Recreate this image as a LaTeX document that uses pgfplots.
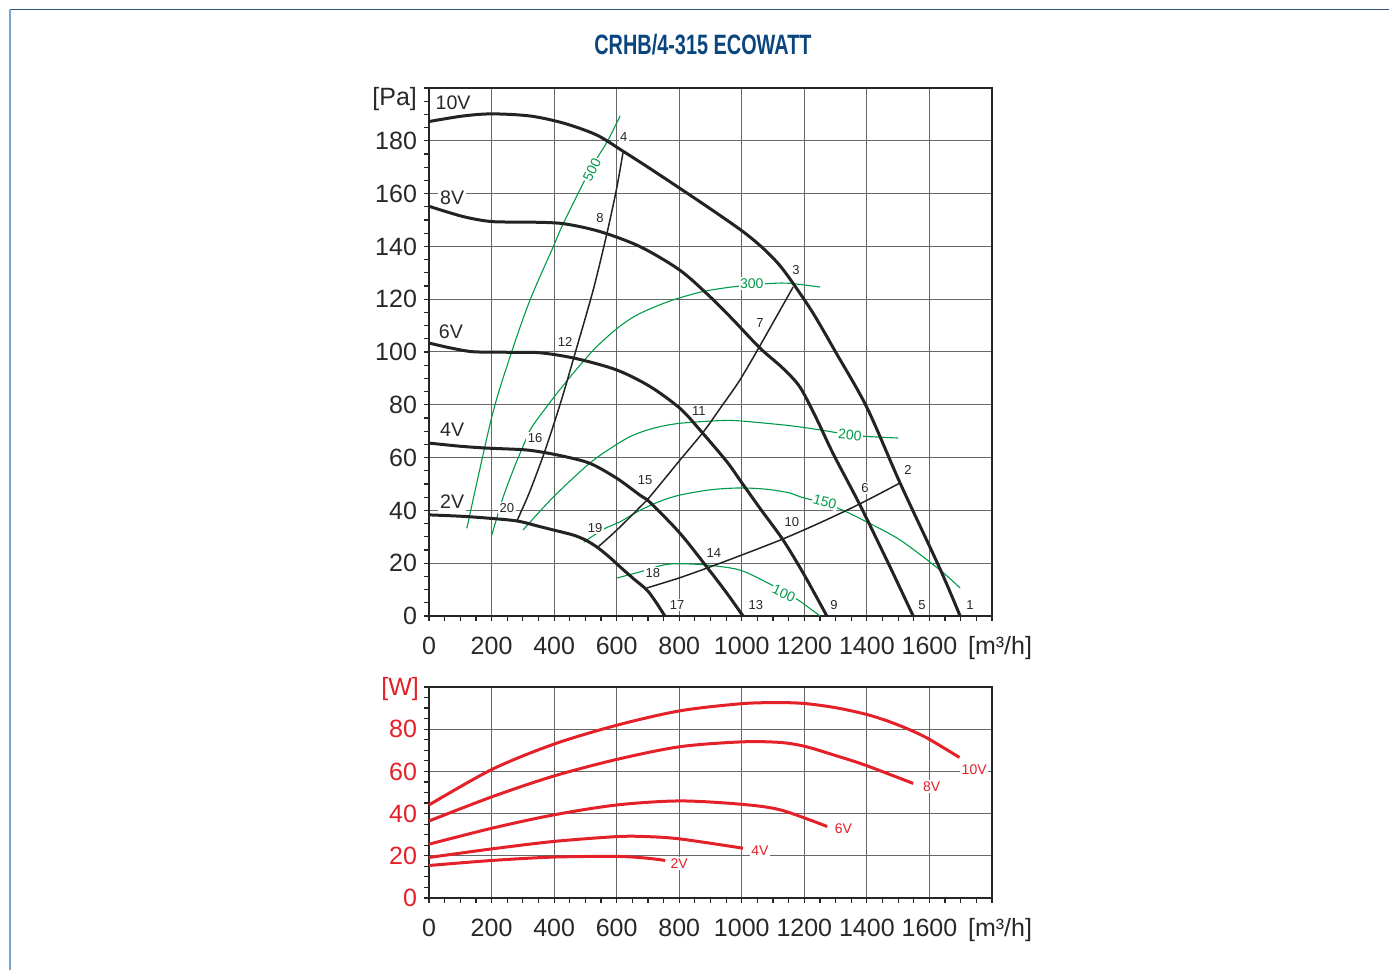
\documentclass[border=0pt]{standalone}
\usepackage{pgfplots}
\pgfplotsset{compat=1.18}
\usepackage{fontspec}
\setmainfont{Liberation Sans}
\usepackage{graphicx}
\definecolor{cgreen}{RGB}{0,155,72}
\definecolor{cred}{RGB}{228,32,40}
\definecolor{ctitle}{RGB}{10,70,125}
\definecolor{cframe}{RGB}{45,85,128}
\definecolor{cframel}{RGB}{125,165,200}
\definecolor{ctext}{RGB}{40,40,40}
\definecolor{ccurve}{RGB}{35,35,35}
\pgfplotsset{
  chart/.style={
    scale only axis, width=281.5pt,
    xmin=0, xmax=1800,
    xtick={0,200,...,1600}, minor xtick={0,50,...,1800},
    tick pos=left, tick align=outside,
    major tick length=2.5pt, minor tick length=2.5pt,
    grid=major, major grid style={line width=0.5pt, black!60},
    axis line style={line width=1pt, black!85},
    tick style={black!85, line width=0.6pt},
    /pgf/number format/assume math mode=true,
    /pgf/number format/set thousands separator={},
    ticklabel style={font=\fontsize{12.5}{14}\selectfont},
    xticklabel style={text=ctext, yshift=-4.5pt},
    clip=false,
  },
}
\tikzset{
  vcurve/.style={ccurve, line width=1.5pt, smooth},
  scurve/.style={ccurve, line width=0.75pt, smooth},
  gcurve/.style={cgreen, line width=0.55pt, smooth},
  rcurve/.style={cred, line width=1.5pt, smooth},
  numlab/.style={fill=white, inner sep=0.8pt, text=ctext, font=\fontsize{6.5}{7}\selectfont},
  vlab/.style={fill=white, inner sep=1pt, text=ctext, font=\fontsize{9.8}{11}\selectfont},
  glab/.style={fill=white, inner sep=0.6pt, text=cgreen, font=\fontsize{7}{8}\selectfont},
  rlab/.style={fill=white, inner sep=0.8pt, text=cred, font=\fontsize{7}{8}\selectfont},
}
\begin{document}
\begin{tikzpicture}
\useasboundingbox (0,0) rectangle (694.5pt,485pt);
\draw[cframe, line width=0.8pt] (4.75pt,480.25pt) -- (694.5pt,480.25pt);
\draw[cframel, line width=1pt] (4.75pt,0) -- (4.75pt,480.25pt);
\node[text=ctitle] at (351.5pt,462.5pt) {\scalebox{0.71}[1]{\fontsize{14}{16}\selectfont\bfseries CRHB/4-315 ECOWATT}};

% ---------------- pressure chart ----------------
\begin{axis}[chart, at={(214.5pt,177pt)}, anchor=south west,
  height=264pt, ymin=0, ymax=200,
  ytick={0,20,...,180}, minor ytick={0,5,...,200},
  yticklabel style={text=ctext}]
% green efficiency curves
\addplot[gcurve, no markers] coordinates {(121,33.2) (201,75.5) (260,98.5) (323,119.7) (397,139.8) (430,148.8) (515,169) (569,179.5) (611,189.4)};
\addplot[gcurve, no markers] coordinates {(201,30.7) (237,45) (275,57) (307,66) (329,71.6) (397,82.5) (460,91.8) (530,101.3) (600,108.8) (650,113) (700,116) (780,119.7) (880,123) (994,125) (1100,126) (1154,126) (1250,124.6)};
\addplot[gcurve, no markers] coordinates {(301,32.6) (397,45) (515,58) (600,65) (653,68.5) (720,71.2) (802,73) (930,74) (994,73.9) (1122,72.5) (1186,71.6) (1260,70.3) (1346,68.6) (1400,68) (1500,67.4)};
\addplot[gcurve, no markers] coordinates {(495,28) (520,30) (563,33.2) (611,35.7) (674,40) (740,43.5) (802,45.8) (900,47.8) (994,48.5) (1080,48) (1154,46.6) (1186,45.2) (1266,42.6) (1324,40) (1400,35.6) (1506,28.8) (1634,17.4) (1698,10.6)};
\addplot[gcurve, no markers] coordinates {(601,14.4) (674,16.7) (749,19.3) (800,19.8) (888,19.3) (994,17.4) (1090,12.1) (1135,9) (1180,6.1) (1250,0)};
% system curves
\addplot[scurve, no markers] coordinates {(281,36) (320,46.5) (369,62) (420,80.5) (467,99.5) (525,123.5) (569,145) (600,162) (620,175.4)};
\addplot[scurve, no markers] coordinates {(540,26.1) (600,32.5) (674,41.2) (707,45.3) (802,59) (877,69.7) (930,78.5) (994,89.4) (1065,103.8) (1164,124.6)};
\addplot[scurve, no markers] coordinates {(696,10.6) (802,14.5) (908,19) (1020,24) (1132,29.2) (1250,35.3) (1378,42.5) (1506,50.4)};
% fan curves
\addplot[vcurve, no markers] coordinates {(0,187.3) (109,189.4) (201,190.2) (323,189.4) (430,186.7) (536,182.2) (621,176) (700,170) (802,162) (900,154.2) (1004,145.6) (1068,139.3) (1120,133) (1164,126) (1228,114.7) (1300,100) (1400,79) (1506,50.4) (1634,17.8) (1698,0)};
\addplot[vcurve, no markers] coordinates {(0,155.2) (109,151.3) (201,149.4) (323,149.2) (430,148.6) (547,145.6) (675,139.9) (802,131) (898,121) (973,112.1) (1058,101.5) (1130,94) (1186,86.7) (1240,74.5) (1292,61.5) (1378,42) (1474,18.6) (1548,0)};
\addplot[vcurve, no markers] coordinates {(0,103.4) (70,101.5) (141,100.1) (250,99.9) (355,99.7) (467,97.6) (600,93.2) (707,86.9) (802,78.7) (866,70.5) (952,58.5) (994,51.5) (1060,40.5) (1132,28.8) (1200,15.5) (1272,0)};
\addplot[vcurve, no markers] coordinates {(0,65.5) (100,64.3) (185,63.6) (300,63) (355,62.2) (430,60.5) (515,57.8) (600,52.2) (674,45.8) (707,43) (802,31.4) (888,18.6) (950,9) (1004,0)};
\addplot[vcurve, no markers] coordinates {(0,38.3) (100,37.8) (185,37.1) (281,36) (350,34) (397,32.6) (460,30.7) (500,28.8) (537,26.1) (575,22.5) (611,18.6) (655,14) (697,9.8) (727,5) (754,0)};
% labels
\node[vlab] at (axis cs:77,194.3) {10V};
\node[vlab] at (axis cs:74,158.3) {8V};
\node[vlab] at (axis cs:70,107.6) {6V};
\node[vlab] at (axis cs:74,70.5) {4V};
\node[vlab] at (axis cs:74,43.2) {2V};
\node[glab, rotate=63] at (axis cs:521,169) {500};
\node[glab] at (axis cs:1032,126) {300};
\node[glab, rotate=-5] at (axis cs:1346,68.6) {200};
\node[glab, rotate=-15] at (axis cs:1266,43.2) {150};
\node[glab, rotate=-25] at (axis cs:1135,8.5) {100};
\node[numlab] at (axis cs:1730,4.2) {1};
\node[numlab] at (axis cs:1531,55.3) {2};
\node[numlab] at (axis cs:1173,131) {3};
\node[numlab] at (axis cs:623,181.4) {4};
\node[numlab] at (axis cs:1576,4.2) {5};
\node[numlab] at (axis cs:1394,48.5) {6};
\node[numlab] at (axis cs:1058,111) {7};
\node[numlab] at (axis cs:547,150.8) {8};
\node[numlab] at (axis cs:1295,4.2) {9};
\node[numlab] at (axis cs:1160,35.6) {10};
\node[numlab] at (axis cs:863,77.7) {11};
\node[numlab] at (axis cs:435,103.8) {12};
\node[numlab] at (axis cs:1045,4.2) {13};
\node[numlab] at (axis cs:911,23.9) {14};
\node[numlab] at (axis cs:691,51.5) {15};
\node[numlab] at (axis cs:339,67.4) {16};
\node[numlab] at (axis cs:793,4.2) {17};
\node[numlab] at (axis cs:716,16.3) {18};
\node[numlab] at (axis cs:531,33.3) {19};
\node[numlab] at (axis cs:249,40.9) {20};
\node[anchor=east, text=ctext, font=\fontsize{12.5}{14}\selectfont, xshift=-2.5pt] at (axis cs:0,196) {[Pa]};
\node[anchor=west, text=ctext, font=\fontsize{12.5}{14}\selectfont, yshift=-16pt] at (axis cs:1701,0) {[m³/h]};
\end{axis}

% ---------------- power chart ----------------
\begin{axis}[chart, at={(214.5pt,36pt)}, anchor=south west,
  height=105.5pt, ymin=0, ymax=100,
  ytick={0,20,...,80}, minor ytick={0,5,...,100},
  yticklabel style={text=cred}]
\addplot[rcurve, no markers] coordinates {(0,44.1) (202,61) (399,72.9) (601,81.9) (802,88.7) (1000,92.1) (1125,92.6) (1206,92.1) (1300,90.2) (1394,87.2) (1460,84.2) (1528,80.3) (1595,75.6) (1696,66.6)};
\addplot[rcurve, no markers] coordinates {(0,36.5) (202,48) (399,57.8) (601,65.7) (802,71.7) (1000,74) (1125,73.7) (1206,71.7) (1300,67.5) (1394,63) (1548,54.3)};
\addplot[rcurve, no markers] coordinates {(0,25.5) (202,33.1) (399,39.4) (601,44.1) (802,46) (1000,44.4) (1125,41.7) (1273,33.9)};
\addplot[rcurve, no markers] coordinates {(0,19.2) (202,23.3) (399,26.8) (601,29.1) (695,29.1) (802,28) (1004,23.6)};
\addplot[rcurve, no markers] coordinates {(0,15.4) (202,17.8) (399,19.4) (601,19.7) (695,18.9) (755,17.8)};
\node[rlab] at (axis cs:1743,61) {10V};
\node[rlab] at (axis cs:1607,52.7) {8V};
\node[rlab] at (axis cs:1325,33) {6V};
\node[rlab] at (axis cs:1058,22.4) {4V};
\node[rlab] at (axis cs:800,16.5) {2V};
\node[anchor=east, text=cred, font=\fontsize{12.5}{14}\selectfont, xshift=-1.5pt] at (axis cs:0,99) {[W]};
\node[anchor=west, text=ctext, font=\fontsize{12.5}{14}\selectfont, yshift=-16pt] at (axis cs:1701,0) {[m³/h]};
\end{axis}
\end{tikzpicture}
\end{document}
